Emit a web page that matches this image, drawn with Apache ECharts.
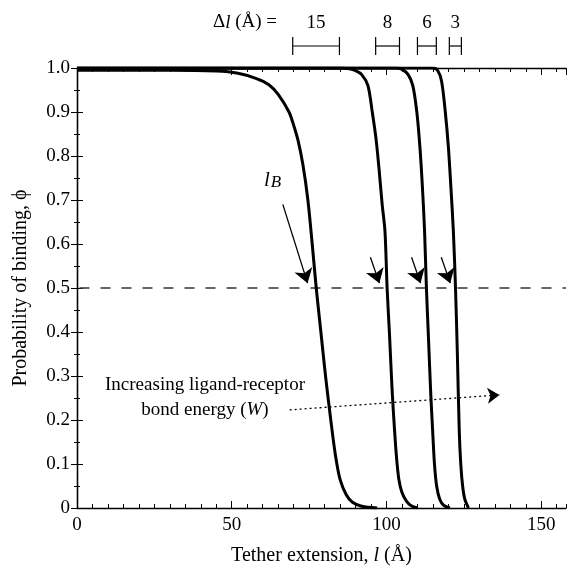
<!DOCTYPE html>
<html>
<head>
<meta charset="utf-8">
<script src="https://cdn.jsdelivr.net/npm/echarts@6/dist/echarts.min.js"></script>
<style>
  html, body { margin: 0; padding: 0; background: #fff; }
  #main { width: 567px; height: 572px; }
</style>
</head>
<body>
<div id="main"></div>
<script>
(function () {
  'use strict';

  // curves: [tether extension l, probability phi]
  var curve15 = [[0, 0.995], [30, 0.995], [45, 0.993], [52, 0.988], [58, 0.976], [62, 0.962], [65, 0.94],
    [68.5, 0.9], [70, 0.87], [71.4, 0.836], [73, 0.78], [74.6, 0.70], [76, 0.6], [77.3, 0.5], [78.8, 0.4],
    [80.3, 0.3], [82, 0.2], [83.5, 0.12], [85, 0.065], [87, 0.03], [89, 0.013], [92, 0.004], [97, 0]];
  var curve8 = [[0, 1], [85, 1], [88, 0.998], [90, 0.994], [92, 0.985], [94, 0.96], [95.4, 0.9], [96.6, 0.84],
    [97.6, 0.77], [98.6, 0.69], [99.5, 0.63], [100.2, 0.5], [101, 0.39], [101.8, 0.27], [102.6, 0.177],
    [103.3, 0.11], [104, 0.065], [105, 0.035], [106.5, 0.015], [108, 0.005], [110, 0]];
  var curve6 = [[0, 1], [103, 1], [105, 0.997], [107, 0.985], [108.5, 0.96], [109.8, 0.9], [110.8, 0.82],
    [111.6, 0.73], [112.3, 0.63], [112.9, 0.5], [113.6, 0.38], [114.3, 0.26], [114.9, 0.177], [115.5, 0.1],
    [116.2, 0.05], [117.2, 0.02], [118.5, 0.006], [120.5, 0]];
  var curve3 = [[0, 1], [115, 1], [116.5, 0.995], [117.8, 0.97], [119, 0.9], [120, 0.82], [120.8, 0.73],
    [121.6, 0.63], [122.3, 0.5], [122.9, 0.35], [123.5, 0.177], [124, 0.1], [124.6, 0.05], [125.3, 0.02],
    [126.5, 0]];

  var halfLine = [[0.8, 0.5], [158, 0.5]];

  // delta l scale bars above the plot
  var deltaLabels = ['15', '8', '6', '3'];
  var deltaStart = [69.7, 96.5, 110, 120.3];
  var deltaEnd = [84.8, 104.2, 116.1, 124.2];

  // arrows [from, to]
  var arrowLB = [[66.5, 0.69], [74.5, 0.511]];
  var arrowsHalf = [
    [[94.8, 0.57], [97.7, 0.511]],
    [[108.1, 0.57], [111, 0.511]],
    [[117.7, 0.57], [120.6, 0.511]]
  ];
  var arrowEnergy = [[68.7, 0.223], [136.5, 0.257]];

  var serif = "'Liberation Serif', 'Times New Roman', serif";
  var xMin = 0, xMax = 158;

  function xAx(pos, interval, len, showLine, showLabel) {
    return {
      type: 'value', position: pos, min: xMin, max: xMax, interval: interval,
      axisLine: { show: showLine, lineStyle: { color: '#000', width: 1.3 } },
      axisTick: { show: true, inside: true, length: len, lineStyle: { color: '#000', width: 1 } },
      axisLabel: { show: showLabel, showMaxLabel: false, color: '#000', fontFamily: serif, fontSize: 19, margin: 8 },
      splitLine: { show: false }
    };
  }

  function yAx(pos, showLabel) {
    return {
      type: 'value', position: pos, min: 0, max: 1, interval: 0.1,
      axisLine: { show: true, lineStyle: { color: '#000', width: 1.3 } },
      axisTick: { show: true, inside: true, length: 6, lineStyle: { color: '#000', width: 1 } },
      minorTick: { show: true, splitNumber: 2, length: 3, lineStyle: { color: '#000', width: 1 } },
      axisLabel: {
        show: showLabel, color: '#000', fontFamily: serif, fontSize: 19, margin: 7,
        formatter: function (v) { return v === 0 ? '0' : v.toFixed(1); }
      },
      splitLine: { show: false }
    };
  }

  var xAxes = [
    xAx('bottom', 50, 7, true, true),
    xAx('bottom', 5, 4, false, false),
    xAx('top', 50, 7, true, false),
    xAx('top', 5, 4, false, false)
  ];
  xAxes[0].name = '{n|Tether extension, }{i|l}{n| (Å)}';
  xAxes[0].nameLocation = 'middle';
  xAxes[0].nameGap = 38;
  xAxes[0].nameTextStyle = {
    rich: {
      n: { fontFamily: serif, fontSize: 20, color: '#000' },
      i: { fontFamily: serif, fontSize: 20, color: '#000', fontStyle: 'italic' }
    }
  };

  var yAxes = [yAx('left', true), yAx('right', false)];
  yAxes[0].name = 'Probability of binding, ϕ';
  yAxes[0].nameLocation = 'middle';
  yAxes[0].nameGap = 46;
  yAxes[0].nameTextStyle = { fontFamily: serif, fontSize: 20, color: '#000' };

  function curveSeries(data) {
    return {
      type: 'line', data: data, xAxisIndex: 0, yAxisIndex: 0,
      smooth: 0.3, showSymbol: false, symbol: 'none', silent: true,
      lineStyle: { color: '#000', width: 3 }, z: 5
    };
  }

  var option = {
    animation: false,
    backgroundColor: '#fff',
    grid: { left: 77, right: 1, top: 68, bottom: 64, containLabel: false },
    xAxis: xAxes,
    yAxis: yAxes,
    series: [
      {
        type: 'line', data: halfLine, showSymbol: false, symbol: 'none', silent: true,
        lineStyle: { color: '#333', width: 1.4, type: [10, 11] }, z: 3
      },
      curveSeries(curve15),
      curveSeries(curve8),
      curveSeries(curve6),
      curveSeries(curve3),
      {
        type: 'lines', coordinateSystem: 'cartesian2d', silent: true, z: 6,
        symbol: ['none', 'arrow'], symbolSize: [8, 14],
        lineStyle: { color: '#000', width: 1.3, opacity: 1, curveness: 0 },
        itemStyle: { color: '#000', opacity: 1 },
        data: [arrowLB].concat(arrowsHalf).map(function (a) { return { coords: a }; })
      },
      {
        type: 'lines', coordinateSystem: 'cartesian2d', silent: true, z: 6,
        symbol: ['none', 'arrow'], symbolSize: [8, 12],
        lineStyle: { color: '#000', width: 1.3, opacity: 1, type: [2, 3] },
        itemStyle: { color: '#000', opacity: 1 },
        data: [{ coords: arrowEnergy }]
      },
      {
        type: 'custom', silent: true, clip: false,
        data: deltaStart.map(function (s, i) { return [s, deltaEnd[i]]; }),
        renderItem: function (params, api) {
          var a = api.coord([api.value(0), 1]);
          var b = api.coord([api.value(1), 1]);
          var y = a[1] - 22;
          var st = { stroke: '#000', lineWidth: 1.2 };
          return {
            type: 'group',
            children: [
              { type: 'line', shape: { x1: a[0], y1: y, x2: b[0], y2: y }, style: st },
              { type: 'line', shape: { x1: a[0], y1: y - 9, x2: a[0], y2: y + 9 }, style: st },
              { type: 'line', shape: { x1: b[0], y1: y - 9, x2: b[0], y2: y + 9 }, style: st },
              {
                type: 'text', x: (a[0] + b[0]) / 2, y: y - 23,
                style: {
                  text: deltaLabels[params.dataIndex], fill: '#000', font: '19px ' + serif,
                  align: 'center', verticalAlign: 'middle'
                }
              }
            ]
          };
        }
      }
    ],
    graphic: [
      {
        type: 'text', right: 567 - 277, top: 13,
        style: {
          text: '{n|Δ}{i|l}{n| (Å) =}', fill: '#000',
          rich: {
            n: { fontFamily: serif, fontSize: 19 },
            i: { fontFamily: serif, fontSize: 19, fontStyle: 'italic' }
          }
        }
      },
      {
        type: 'text', left: 264, top: 170,
        style: {
          text: '{i|l}{s|B}', fill: '#000',
          rich: {
            i: { fontFamily: serif, fontSize: 21, fontStyle: 'italic', verticalAlign: 'bottom' },
            s: { fontFamily: serif, fontSize: 17, fontStyle: 'italic', padding: [14, 0, 0, 1] }
          }
        }
      },
      {
        type: 'text', x: 205, y: 385,
        style: {
          text: 'Increasing ligand-receptor', fill: '#000', font: '19px ' + serif,
          align: 'center', verticalAlign: 'middle'
        }
      },
      {
        type: 'text', x: 205, y: 410,
        style: {
          text: '{n|bond energy (}{i|W}{n|)}', fill: '#000', align: 'center', verticalAlign: 'middle',
          rich: {
            n: { fontFamily: serif, fontSize: 19 },
            i: { fontFamily: serif, fontSize: 19, fontStyle: 'italic' }
          }
        }
      }
    ]
  };

  var myChart = echarts.init(document.getElementById('main'));
  myChart.setOption(option);
}());
</script>
</body>
</html>
